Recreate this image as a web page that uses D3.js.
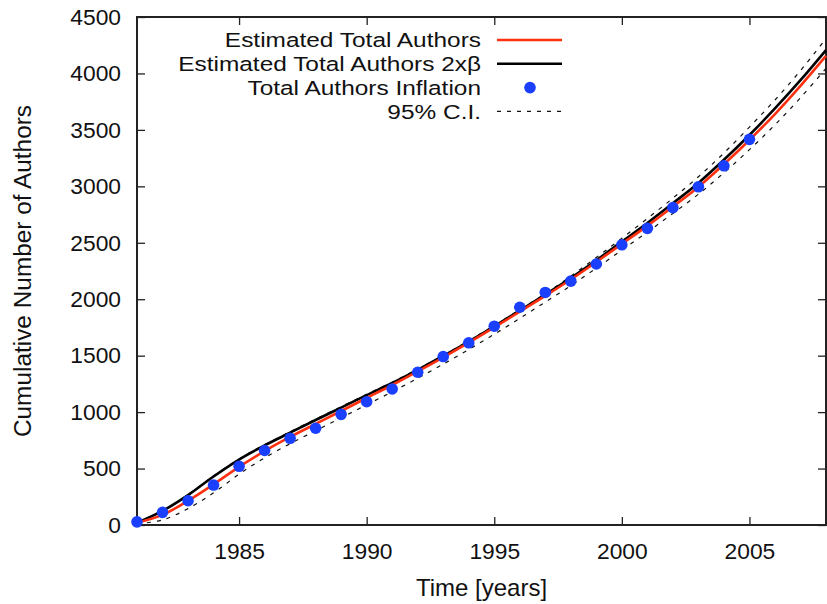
<!DOCTYPE html>
<html>
<head>
<meta charset="utf-8">
<script src="https://cdn.jsdelivr.net/npm/d3@7"></script>
<style>
  body { margin: 0; background: #fff; }
  text { font-family: "Liberation Sans", Arial, Helvetica, sans-serif; fill: #111; }
</style>
</head>
<body>
<div class="chart"></div>
<script>
// data
const years = d3.range(1981, 2009);
const estimated = [20, 90, 215, 360, 515, 655, 780, 895, 1010, 1125, 1240, 1360, 1485, 1615, 1750, 1890, 2030, 2175, 2330, 2490, 2650, 2820, 2995, 3195, 3410, 3640, 3890, 4155];
const estimated2b = [20, 125, 265, 430, 580, 705, 818, 930, 1040, 1150, 1258, 1375, 1497, 1625, 1760, 1900, 2042, 2188, 2345, 2510, 2675, 2850, 3030, 3235, 3455, 3690, 3940, 4207];
const ciUpper = [22, 128, 270, 435, 585, 712, 825, 938, 1048, 1158, 1265, 1382, 1503, 1632, 1768, 1908, 2050, 2205, 2370, 2540, 2715, 2895, 3085, 3295, 3525, 3765, 4025, 4310];
const ciLower = [10, 45, 145, 285, 450, 595, 720, 835, 950, 1065, 1180, 1300, 1425, 1555, 1690, 1830, 1975, 2120, 2275, 2435, 2595, 2760, 2930, 3120, 3325, 3545, 3785, 4045];
const inflYears = d3.range(1981, 2006);
const inflation = [28, 112, 215, 354, 520, 660, 768, 857, 980, 1092, 1205, 1353, 1492, 1614, 1761, 1929, 2060, 2160, 2312, 2482, 2628, 2811, 2996, 3182, 3416];
const xTicks = [1985, 1990, 1995, 2000, 2005];
const yTicks = d3.range(0, 4501, 500);
const legendLabels = ['Estimated Total Authors', 'Estimated Total Authors 2x\u03b2', 'Total Authors Inflation', '95% C.I.'];

const W = 827, H = 604;
const margin = ({top: 17, right: 1, bottom: 79, left: 137});

const svg = d3.select('.chart')
  .append('svg')
  .attr('width', W)
  .attr('height', H);

const xScale = d3.scaleLinear().domain([1981, 2008]).range([margin.left, W - margin.right]);
const yScale = d3.scaleLinear().domain([0, 4500]).range([H - margin.bottom, margin.top]);

const plotL = margin.left, plotR = W - margin.right, plotT = margin.top, plotB = H - margin.bottom;

// inward ticks, gnuplot style
const styleAxis = g => {
  g.select('.domain').remove();
  g.selectAll('.tick line').attr('stroke', '#222').attr('stroke-width', 1.3);
  g.selectAll('.tick text').attr('font-size', 22.8).attr('fill', '#111');
};

svg.append('g')
  .attr('transform', `translate(0,${plotB})`)
  .call(d3.axisBottom(xScale).tickValues(xTicks).tickFormat(d3.format('d')).tickSize(-8).tickPadding(18))
  .call(styleAxis);

svg.append('g')
  .attr('transform', `translate(0,${plotT})`)
  .call(d3.axisTop(xScale).tickValues(xTicks).tickFormat('').tickSize(-8))
  .call(styleAxis);

svg.append('g')
  .attr('transform', `translate(${plotL},0)`)
  .call(d3.axisLeft(yScale).tickValues(yTicks).tickFormat(d3.format('d')).tickSize(-8).tickPadding(16))
  .call(styleAxis);

svg.append('g')
  .attr('transform', `translate(${plotR},0)`)
  .call(d3.axisRight(yScale).tickValues(yTicks).tickFormat('').tickSize(-8))
  .call(styleAxis);

// frame
svg.append('rect')
  .attr('x', plotL).attr('y', plotT)
  .attr('width', plotR - plotL).attr('height', plotB - plotT)
  .attr('fill', 'none').attr('stroke', '#222').attr('stroke-width', 2);

// axis labels
svg.append('text')
  .attr('x', (plotL + plotR) / 2).attr('y', 596)
  .attr('text-anchor', 'middle').attr('font-size', 24)
  .text('Time [years]');

svg.append('text')
  .attr('transform', `translate(31,${(plotT + plotB) / 2}) rotate(-90)`)
  .attr('text-anchor', 'middle').attr('font-size', 24.4)
  .text('Cumulative Number of Authors');

const line = d3.line()
  .x((d, i) => xScale(years[i]))
  .y(d => yScale(d))
  .curve(d3.curveCatmullRom);

const plot = svg.append('g');

plot.append('path').datum(ciUpper)
  .attr('d', line).attr('fill', 'none')
  .attr('stroke', '#111').attr('stroke-width', 1.2).attr('stroke-dasharray', '4,6');
plot.append('path').datum(ciLower)
  .attr('d', line).attr('fill', 'none')
  .attr('stroke', '#111').attr('stroke-width', 1.2).attr('stroke-dasharray', '4,6');
plot.append('path').datum(estimated2b)
  .attr('d', line).attr('fill', 'none')
  .attr('stroke', '#000').attr('stroke-width', 2.6);
plot.append('path').datum(estimated)
  .attr('d', line).attr('fill', 'none')
  .attr('stroke', '#ff3010').attr('stroke-width', 2.6);

plot.selectAll('circle')
  .data(inflation)
  .enter()
  .append('circle')
  .attr('cx', (d, i) => xScale(inflYears[i]))
  .attr('cy', d => yScale(d))
  .attr('r', 5.8)
  .attr('fill', '#1a3fff');

// legend (text is a bit stretched sideways in the original)
const legend = svg.append('g');
const rowY = i => 40 + i * 23.8;
legendLabels.forEach((t, i) => {
  legend.append('text')
    .attr('transform', `translate(481,${rowY(i)}) scale(1.24,1)`)
    .attr('dy', '0.36em')
    .attr('text-anchor', 'end').attr('font-size', 19.7)
    .text(t);
});
legend.append('line').attr('x1', 497).attr('x2', 562).attr('y1', rowY(0)).attr('y2', rowY(0))
  .attr('stroke', '#ff3010').attr('stroke-width', 2.6);
legend.append('line').attr('x1', 497).attr('x2', 562).attr('y1', rowY(1)).attr('y2', rowY(1))
  .attr('stroke', '#000').attr('stroke-width', 2.6);
legend.append('circle').attr('cx', 530).attr('cy', rowY(2)).attr('r', 5.8).attr('fill', '#1a3fff');
legend.append('line').attr('x1', 497).attr('x2', 562).attr('y1', rowY(3)).attr('y2', rowY(3))
  .attr('stroke', '#111').attr('stroke-width', 1.2).attr('stroke-dasharray', '4,6');
</script>
</body>
</html>
